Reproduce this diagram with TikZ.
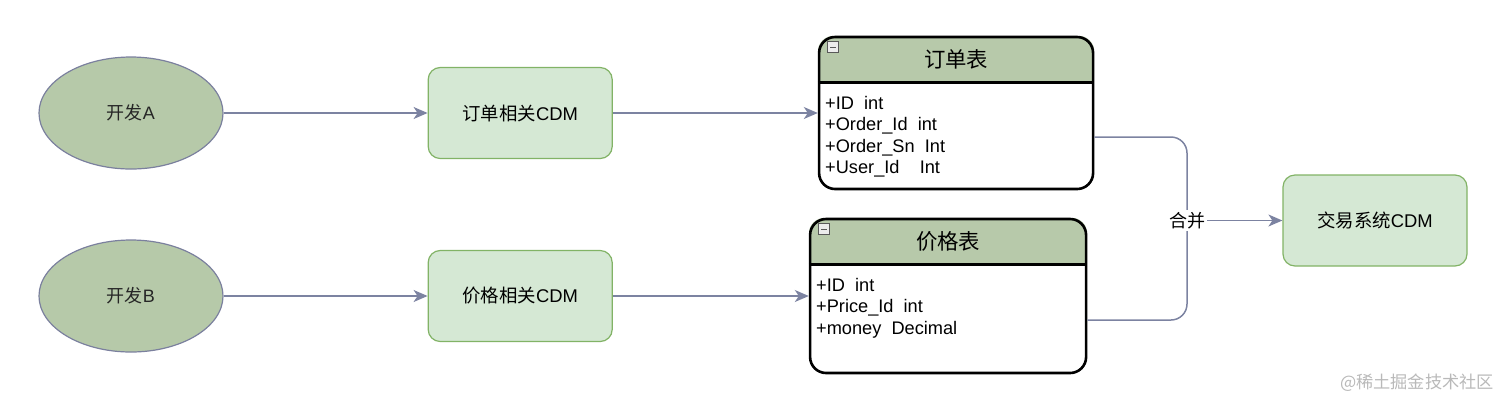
\documentclass[tikz,border=0pt]{standalone}
\usepackage{fontspec}
\setmainfont{Liberation Sans}
\newfontfamily\cjk{Noto Sans CJK SC}
\usetikzlibrary{arrows.meta,positioning,shapes.geometric,backgrounds}
\definecolor{devgreen}{HTML}{B6C9A9}
\definecolor{devborder}{HTML}{7B809E}
\definecolor{cdmfill}{HTML}{D5E8D4}
\definecolor{cdmborder}{HTML}{82B366}
\definecolor{hdrgreen}{HTML}{B7C9AA}
\definecolor{flowgray}{HTML}{7C83A1}
\newcommand{\zh}[1]{{\cjk #1}}

\begin{document}
\begin{tikzpicture}[
  dev/.style={draw=devborder, fill=devgreen, ellipse, line width=0.6pt,
              minimum width=92pt, minimum height=56pt, inner sep=0pt,
              font=\fontsize{9}{11}\selectfont, text=black!85},
  cdm/.style={draw=cdmborder, fill=cdmfill, rectangle, rounded corners=6pt,
              line width=0.6pt, minimum width=92pt, minimum height=45.5pt,
              font=\fontsize{9.2}{11}\selectfont},
  tblbox/.style={draw=black, rectangle, rounded corners=8pt,
                 line width=1.3pt, inner sep=0pt},
  tblhead/.style={font=\fontsize{10.7}{12}\selectfont, inner sep=0pt},
  tblbody/.style={font=\fontsize{9.1}{10.75}\selectfont, align=left,
                  inner sep=0pt, anchor=north west},
  fold/.style={draw=gray!70!black, fill=gray!15, rectangle, minimum size=5.5pt,
               inner sep=0pt, line width=0.4pt,
               path picture={\draw[line width=0.7pt]
                 ([xshift=1.2pt]path picture bounding box.west) --
                 ([xshift=-1.2pt]path picture bounding box.east);}},
  arr/.style={-{Stealth[length=7pt,width=6pt,inset=2pt]}, draw=flowgray, line width=0.75pt},
  link/.style={draw=flowgray, line width=0.75pt, rounded corners=8pt}
]
  \useasboundingbox (0pt,0pt) rectangle (756pt,-204.5pt);

  \node[dev] (devA) at (65.5pt,-56.5pt) {\zh{开发}A};
  \node[dev] (devB) at (65.5pt,-148pt) {\zh{开发}B};
  \node[cdm, right=102pt of devA] (ordercdm) {\zh{订单相关}CDM};
  \node[cdm, right=102pt of devB] (pricecdm) {\zh{价格相关}CDM};
  \node[tblbox, minimum width=137pt, minimum height=76pt,
        right=102.5pt of ordercdm] (orders) {};
  \node[tblbox, minimum width=138pt, minimum height=77pt,
        right=98pt of pricecdm] (prices) {};
  \node[cdm] (trade) at (687.5pt,-110.25pt) {\zh{交易系统}CDM};

  %% table headers
  \begin{scope}[on background layer]
    \foreach \t in {orders,prices}{
      \begin{scope}
        \clip[rounded corners=8pt] (\t.south west) rectangle (\t.north east);
        \fill[hdrgreen] (\t.north west) rectangle ([yshift=-23.5pt]\t.north east);
      \end{scope}
    }
  \end{scope}
  \foreach \t in {orders,prices}
    \draw[line width=1.3pt] ([yshift=-23.5pt]\t.north west) -- ([yshift=-23.5pt]\t.north east);

  \node[fold, below right=2.8pt and 4.8pt of orders.north west] (ordersfold) {};
  \node[fold, below right=2.8pt and 4.8pt of prices.north west] (pricesfold) {};
  \node[tblhead] (ordershead) at ([yshift=-11.75pt]orders.north) {\zh{订单表}};
  \node[tblhead] (priceshead) at ([yshift=-11.75pt]prices.north) {\zh{价格表}};
  \node[tblbody] (ordersbody) at ([xshift=3.5pt,yshift=-30pt]orders.north west)
    {+ID~~int\\+Order\_Id~~int\\+Order\_Sn~~Int\\+User\_Id~~~~Int};
  \node[tblbody] (pricesbody) at ([xshift=3.5pt,yshift=-30pt]prices.north west)
    {+ID~~int\\+Price\_Id~~int\\+money~~Decimal};

  \draw[arr] (devA) -- (ordercdm);
  \draw[arr] (ordercdm) -- (orders);
  \draw[arr] (devB) -- (pricecdm);
  \draw[arr] (pricecdm) -- (prices);

  %% merge
  \coordinate (merge) at (593.5pt,-110.25pt);
  \draw[link] ([yshift=-12pt]orders.east) -| (merge);
  \draw[link] ([yshift=-12pt]prices.east) -| (merge);
  \node[fill=white, inner sep=1pt, font=\fontsize{9}{10}\selectfont] (mergelbl) at (merge) {\zh{合并}};
  \draw[arr] (mergelbl) -- (trade);

  \node[text=gray!55, font=\fontsize{8.6}{10}\selectfont] (mark) at (708.5pt,-191.5pt) {\zh{@稀土掘金技术社区}};
\end{tikzpicture}
\end{document}
